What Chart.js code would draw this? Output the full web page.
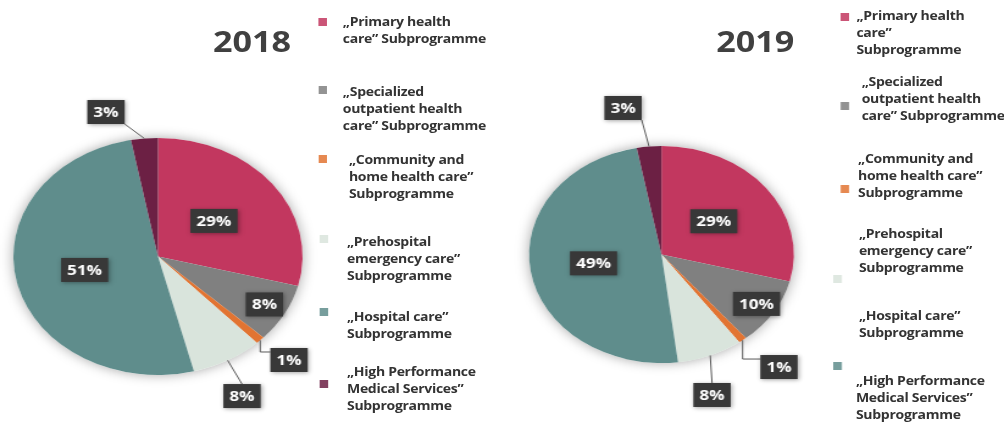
<!DOCTYPE html>
<html>
<head>
<meta charset="utf-8">
<script src="https://cdn.jsdelivr.net/npm/chart.js@4.4.0/dist/chart.umd.min.js"></script>
<style>
  html, body { margin: 0; padding: 0; background: #fff; }
  body { width: 1004px; height: 432px; overflow: hidden; position: relative; }
  /* the whole sheet is drawn narrow and stretched sideways */
  #stage {
    position: absolute; left: 0; top: 0; width: 823px; height: 432px;
    transform: scaleX(1.22); transform-origin: 0 0;
    font-family: 'Open Sans', sans-serif;
  }
  #stage canvas { position: absolute; top: 0; }
  .year { position: absolute; font-weight: 700; font-size: 28px; line-height: 28px; color: #404040; }
  .legend-text {
    position: absolute; font-size: 11.5px; font-weight: 700; line-height: 17px;
    letter-spacing: -0.25px; color: #333; white-space: pre;
  }
  .swatch { position: absolute; width: 7px; height: 8px; opacity: 0.85; }
</style>
</head>
<body>
<div id="stage">
  <canvas id="pie2018" width="330" height="432" style="left:0"></canvas>
  <canvas id="pie2019" width="300" height="432" style="left:400px"></canvas>
  <div class="year" style="left:174.6px; top:27px">2018</div>
  <div class="year" style="left:587px; top:27px">2019</div>
  <div id="legend2018"></div>
  <div id="legend2019"></div>
</div>
<script>
const categories = [
  '„Primary health care” Subprogramme',
  '„Specialized outpatient health care” Subprogramme',
  '„Community and home health care” Subprogramme',
  '„Prehospital emergency care” Subprogramme',
  '„Hospital care” Subprogramme',
  '„High Performance Medical Services” Subprogramme'
];
const share2018 = [29, 8, 1, 8, 51, 3];
const share2019 = [29, 10, 1, 8, 49, 3];

const sliceColors = ['#C2375F', '#808080', '#E27432', '#D9E4DC', '#5F8D8C', '#6C2044'];

// legend wording, broken the way each column shows it
const legendLines2018 = [
  '„Primary health\ncare” Subprogramme',
  '„Specialized\noutpatient health\ncare” Subprogramme',
  '„Community and\nhome health care”\nSubprogramme',
  '„Prehospital\nemergency care”\nSubprogramme',
  '„Hospital care”\nSubprogramme',
  '„High Performance\nMedical Services”\nSubprogramme'
];
const legendLines2019 = [
  '„Primary health\ncare”\nSubprogramme',
  '„Specialized\noutpatient health\ncare” Subprogramme',
  '„Community and\nhome health care”\nSubprogramme',
  '„Prehospital\nemergency care”\nSubprogramme',
  '„Hospital care”\nSubprogramme',
  '„High Performance\nMedical Services”\nSubprogramme'
];

// text blocks [left, top] and swatches [left, top, colour index]
const legendText2018 = [[281, 13.4], [281, 83.4], [286, 151.4], [284.4, 233.4], [284.4, 308.4], [284.4, 363.4]];
const legendBox2018 = [[260.7, 18, 0], [260.7, 86, 1], [260.7, 155, 2], [262.3, 235, 3], [262.3, 308, 4], [262.3, 380, 5]];
const legendText2019 = [[702, 7.4], [706.3, 73.4], [703.3, 150.4], [704, 225.4], [704, 307.4], [701.6, 372.4]];
const legendBox2019 = [[689.3, 13, 0], [689.3, 102, 1], [689.3, 185, 2], [682.8, 275, 3], [682.8, 362, 4]];

// r: label inside the slice at that part of the radius
// ox/oy: label outside, shifted from the rim, with a leader line
const labelSpots2018 = [{ r: 0.49 }, { r: 0.84 }, { ox: 23.6, oy: 19.7, elbow: true }, { ox: 11.8, oy: 35.7 }, { r: 0.52 }, { ox: -31.5, oy: -26.5 }];
const labelSpots2019 = [{ r: 0.50 }, { r: 0.85 }, { ox: 29.8, oy: 26.8, elbow: true }, { ox: 1.5, oy: 39.6 }, { r: 0.52 }, { ox: -21.3, oy: -38.5 }];

function buildLegend(holderId, lines, textPos, boxPos) {
  const holder = document.getElementById(holderId);
  lines.forEach((txt, i) => {
    const el = document.createElement('div');
    el.className = 'legend-text';
    el.style.left = textPos[i][0] + 'px';
    el.style.top = textPos[i][1] + 'px';
    el.textContent = txt;
    holder.appendChild(el);
  });
  boxPos.forEach(([x, y, c]) => {
    const sq = document.createElement('div');
    sq.className = 'swatch';
    sq.style.left = x + 'px';
    sq.style.top = y + 'px';
    sq.style.background = sliceColors[c];
    holder.appendChild(sq);
  });
}

// shadow under the pie + boxed percentage labels
function pieDecor(spots) {
  return {
    id: 'pieDecor',
    beforeDatasetsDraw(chart) {
      const first = chart.getDatasetMeta(0).data[0];
      const { x, y, outerRadius } = first.getProps(['x', 'y', 'outerRadius'], true);
      const ctx = chart.ctx;
      ctx.save();
      ctx.shadowColor = 'rgba(0,0,0,0.35)';
      ctx.shadowBlur = 12;
      ctx.fillStyle = '#fff';
      ctx.beginPath();
      ctx.arc(x, y, outerRadius, 0, Math.PI * 2);
      ctx.fill();
      ctx.restore();
    },
    afterDatasetsDraw(chart) {
      const ctx = chart.ctx;
      const values = chart.data.datasets[0].data;
      ctx.save();
      ctx.font = 'bold 14px "Open Sans"';
      ctx.textAlign = 'center';
      ctx.textBaseline = 'middle';
      chart.getDatasetMeta(0).data.forEach((arc, i) => {
        const p = arc.getProps(['x', 'y', 'startAngle', 'endAngle', 'outerRadius'], true);
        const mid = (p.startAngle + p.endAngle) / 2;
        const spot = spots[i];
        const text = values[i] + '%';
        const w = ctx.measureText(text).width + 10;
        const h = 24;
        let cx, cy;
        if (spot.r) {
          cx = p.x + Math.cos(mid) * p.outerRadius * spot.r;
          cy = p.y + Math.sin(mid) * p.outerRadius * spot.r;
        } else {
          const ex = p.x + Math.cos(mid) * p.outerRadius;
          const ey = p.y + Math.sin(mid) * p.outerRadius;
          cx = ex + spot.ox;
          cy = ey + spot.oy;
          ctx.strokeStyle = '#595959';
          ctx.lineWidth = 1;
          ctx.beginPath();
          ctx.moveTo(ex, ey);
          if (spot.elbow) {
            const ly = cy - h / 2 + 4;
            ctx.lineTo(ex, ly);
            ctx.lineTo(cx - w / 2, ly);
          } else if (spot.oy > 0) {
            ctx.lineTo(cx, cy - h / 2);
          } else {
            ctx.lineTo(Math.min(Math.max(ex, cx - w / 2), cx + w / 2), cy + h / 2);
          }
          ctx.stroke();
        }
        ctx.shadowColor = 'rgba(0,0,0,0.35)';
        ctx.shadowBlur = 4;
        ctx.shadowOffsetX = 1;
        ctx.shadowOffsetY = 1;
        ctx.fillStyle = '#383838';
        ctx.fillRect(cx - w / 2, cy - h / 2, w, h);
        ctx.shadowColor = 'transparent';
        ctx.fillStyle = '#fff';
        ctx.fillText(text, cx, cy + 1);
      });
      ctx.restore();
    }
  };
}

function drawPie(canvasId, values, spots, padding) {
  return new Chart(document.getElementById(canvasId), {
    type: 'pie',
    data: {
      labels: categories,
      datasets: [{
        data: values,
        backgroundColor: sliceColors,
        borderWidth: 0,
        hoverBorderWidth: 0,
        hoverOffset: 0
      }]
    },
    options: {
      responsive: false,
      animation: false,
      events: [],
      layout: { padding },
      plugins: {
        legend: { display: false },
        tooltip: { enabled: false }
      }
    },
    plugins: [pieDecor(spots)]
  });
}

document.addEventListener('DOMContentLoaded', () => {
  buildLegend('legend2018', legendLines2018, legendText2018, legendBox2018);
  buildLegend('legend2019', legendLines2019, legendText2019, legendBox2019);
  drawPie('pie2018', share2018, labelSpots2018, { left: 11, right: 82, top: 138, bottom: 57 });
  drawPie('pie2019', share2019, labelSpots2019, { left: 33.7, right: 49.3, top: 146, bottom: 69 });
});
</script>
</body>
</html>
